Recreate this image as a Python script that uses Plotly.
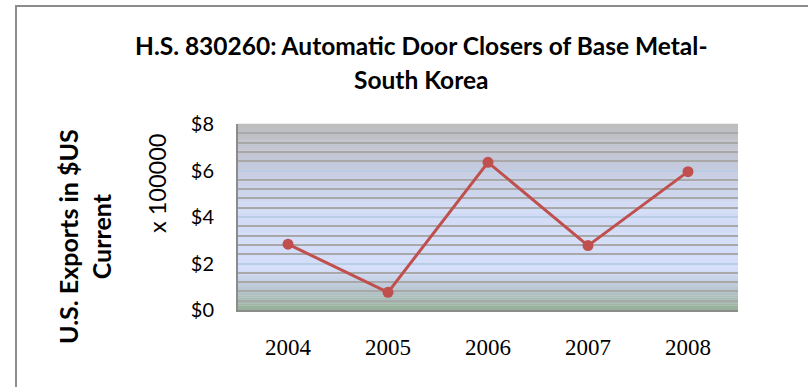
import plotly.graph_objects as go

years = ["2004", "2005", "2006", "2007", "2008"]
exports = [2.83, 0.76, 6.35, 2.77, 5.95]
title_lines = ["H.S. 830260: Automatic Door Closers of Base Metal-", "South Korea"]
y_title = "U.S. Exports in $US<br>Current"
y_unit = "x 100000"

W, H = 808, 387
L, R, T, B = 238, 70, 124, 77
pw, ph = W - L - R, H - T - B

def px_x(x):
    return (x - L) / pw

def px_y(y):
    return 1 - (y - T) / ph

fig = go.Figure()
fig.add_trace(go.Scatter(
    x=years, y=exports, mode="lines+markers",
    line=dict(color="#c0504d", width=3),
    marker=dict(color="#c0504d", size=11),
    showlegend=False, hoverinfo="skip",
))

# gradient background bands (top -> bottom)
stops = [(0.0, (189, 189, 189)), (0.25, (197, 203, 224)), (0.45, (210, 219, 245)),
         (0.78, (212, 222, 250)), (0.88, (188, 201, 214)), (1.0, (150, 176, 152))]

def col(t):
    for (a, ca), (b, cb) in zip(stops[:-1], stops[1:]):
        if a <= t <= b:
            f = (t - a) / (b - a) if b > a else 0
            return "rgb(%d,%d,%d)" % tuple(round(ca[i] + (cb[i] - ca[i]) * f) for i in range(3))
    return "rgb(%d,%d,%d)" % stops[-1][1]

N = 90
shapes = []
for i in range(N):
    t0, t1 = i / N, (i + 1) / N
    shapes.append(dict(type="rect", xref="paper", yref="paper", x0=0, x1=1,
                       y0=1 - t1, y1=1 - t0 + 0.002, fillcolor=col((t0 + t1) / 2),
                       line=dict(width=0), layer="below"))
# outer frame
shapes.append(dict(type="rect", xref="paper", yref="paper",
                   x0=px_x(16), x1=px_x(1000), y0=px_y(1000), y1=px_y(6),
                   line=dict(color="#8c8c8c", width=2), fillcolor="rgba(0,0,0,0)", layer="above"))

annotations = [
    dict(text="<b>%s</b>" % title_lines[0], xref="paper", yref="paper", x=px_x(421), y=px_y(46),
         showarrow=False, font=dict(family="Lato", size=24.5, color="black"), xanchor="center", yanchor="middle"),
    dict(text="<b>%s</b>" % title_lines[1], xref="paper", yref="paper", x=px_x(421), y=px_y(79),
         showarrow=False, font=dict(family="Lato", size=24.5, color="black"), xanchor="center", yanchor="middle"),
    dict(text="<b>%s</b>" % y_title, xref="paper", yref="paper", x=px_x(84), y=px_y(237),
         showarrow=False, textangle=-90, font=dict(family="Lato", size=25, color="black"),
         xanchor="center", yanchor="middle"),
    dict(text=y_unit, xref="paper", yref="paper", x=px_x(157), y=px_y(183),
         showarrow=False, textangle=-90, font=dict(family="Lato", size=23.5, color="black"),
         xanchor="center", yanchor="middle"),
]

fig.update_layout(
    width=W, height=H, margin=dict(l=L, r=R, t=T, b=B),
    paper_bgcolor="white", plot_bgcolor="rgba(0,0,0,0)",
    shapes=shapes, annotations=annotations,
)
fig.update_xaxes(type="category", range=[-0.5, 4.5], showgrid=False,
                 showline=True, linecolor="#8c8c8c", linewidth=2,
                 tickfont=dict(family="Liberation Serif", size=23, color="black"),
                 ticks="", ticklabelstandoff=15, fixedrange=True)
fig.update_yaxes(range=[0, 8], dtick=2, tickprefix="$", showgrid=True,
                 gridcolor="#b9cde5", gridwidth=1.5, zeroline=False,
                 minor=dict(dtick=0.4, showgrid=True, gridcolor="#a8a8a8", gridwidth=1.5),
                 showline=True, linecolor="#8c8c8c", linewidth=2,
                 tickfont=dict(family="Lato", size=20, color="black"),
                 ticks="", ticklabelstandoff=18, fixedrange=True)

fig.write_html("out.html")
